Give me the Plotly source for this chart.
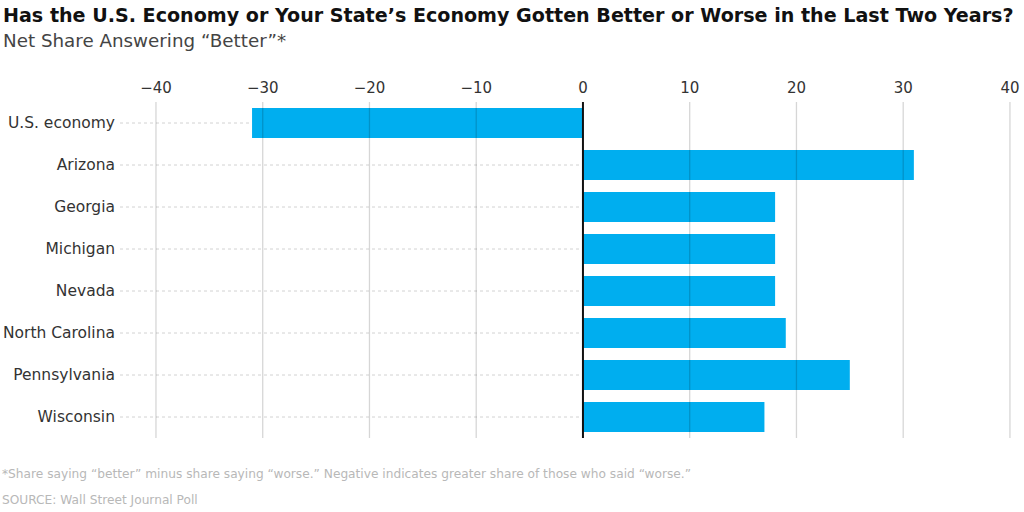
import plotly.graph_objects as go

categories = ["U.S. economy", "Arizona", "Georgia", "Michigan", "Nevada",
              "North Carolina", "Pennsylvania", "Wisconsin"]
values = [-31, 31, 18, 18, 18, 19, 25, 17]
tick_vals = [-40, -30, -20, -10, 0, 10, 20, 30, 40]

title = "Has the U.S. Economy or Your State\u2019s Economy Gotten Better or Worse in the Last Two Years?"
subtitle = "Net Share Answering \u201cBetter\u201d*"
footnote = "*Share saying \u201cbetter\u201d minus share saying \u201cworse.\u201d Negative indicates greater share of those who said \u201cworse.\u201d"
source = "SOURCE: Wall Street Journal Poll"

XMIN, XMAX = -43.37, 40.38
FONT = "DejaVu Sans"
ML, MR, MT, MB = 120, 10, 102, 74
W, H = 1024, 512

fig = go.Figure()

# dotted leader lines from label to bar start
lx, ly = [], []
for c, v in zip(categories, values):
    lx += [XMIN, min(0, v), None]
    ly += [c, c, None]
fig.add_trace(go.Scatter(x=lx, y=ly, mode="lines",
                         line=dict(color="#d2d2d2", width=1, dash="dot"),
                         hoverinfo="skip", showlegend=False))

fig.add_trace(go.Bar(x=values, y=categories, orientation="h",
                     marker=dict(color="#00AEEF", line=dict(width=0)),
                     width=0.71, showlegend=False))

shapes = []
for t in tick_vals:
    if t == 0:
        continue
    shapes.append(dict(type="line", xref="x", yref="paper", x0=t, x1=t, y0=0, y1=1,
                       line=dict(color="rgba(0,0,0,0.16)", width=1.3), layer="above"))
shapes.append(dict(type="line", xref="x", yref="paper", x0=0, x1=0, y0=0, y1=1,
                   line=dict(color="#111111", width=2), layer="above"))

plot_h = H - MT - MB
plot_w = W - ML - MR
def py(ypix):
    return (H - MB - ypix) / plot_h
def px(xpix):
    return (xpix - ML) / plot_w

fig.update_layout(
    width=W, height=H,
    margin=dict(l=ML, r=MR, t=MT, b=MB, autoexpand=False),
    paper_bgcolor="white", plot_bgcolor="white",
    font=dict(family=FONT, color="#333333"),
    shapes=shapes,
    xaxis=dict(side="top", range=[XMIN, XMAX], tickvals=tick_vals,
               showgrid=False, zeroline=False, showline=False, automargin=False,
               tickfont=dict(size=15, color="#333333"), ticks="",
               ticklabelstandoff=5, fixedrange=True),
    yaxis=dict(categoryorder="array", categoryarray=categories,
               range=[7.5, -0.5], showgrid=False, zeroline=False, showline=False,
               automargin=False,
               tickfont=dict(size=15.5, color="#333333"), ticks="",
               ticklabelstandoff=4, fixedrange=True),
    annotations=[
        dict(text="<b>" + title + "</b>", xref="paper", yref="paper", x=px(1), y=py(15),
             xanchor="left", yanchor="middle", showarrow=False,
             font=dict(size=19.1, color="#111111", family=FONT)),
        dict(text=subtitle, xref="paper", yref="paper", x=px(1), y=py(41),
             xanchor="left", yanchor="middle", showarrow=False,
             font=dict(size=18.3, color="#444444", family=FONT)),
        dict(text=footnote, xref="paper", yref="paper", x=px(0), y=py(474),
             xanchor="left", yanchor="middle", showarrow=False,
             font=dict(size=12.2, color="#b8b8b8", family=FONT)),
        dict(text=source, xref="paper", yref="paper", x=px(0), y=py(500),
             xanchor="left", yanchor="middle", showarrow=False,
             font=dict(size=12.2, color="#b8b8b8", family=FONT)),
    ],
)

fig.write_html("out.html", config={"displayModeBar": False},
               post_script="document.body.style.margin='0';document.body.style.overflow='hidden';")
